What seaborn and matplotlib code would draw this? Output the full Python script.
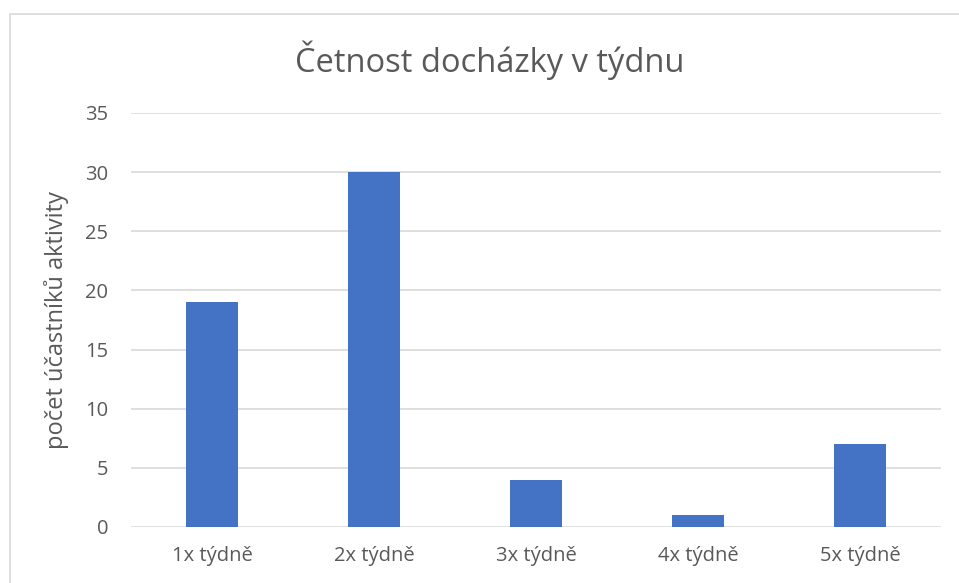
import matplotlib
matplotlib.use("Agg")
import matplotlib.pyplot as plt
import seaborn as sns
import pandas as pd
from matplotlib.patches import Rectangle

categories = ["1x týdně", "2x týdně", "3x týdně", "4x týdně", "5x týdně"]
values = [19, 30, 4, 1, 7]
yticks = [0, 5, 10, 15, 20, 25, 30, 35]

sns.set_theme(style="white")
plt.rcParams['font.family'] = ['Open Sans', 'DejaVu Sans']

df = pd.DataFrame({"cat": categories, "val": values})

fig = plt.figure(figsize=(9.59, 5.83), dpi=100)
ax = fig.add_axes([131/959, 1 - 527/583, (941-131)/959, (527-113)/583])
sns.barplot(data=df, x="cat", y="val", color="#4472C4", width=0.32, ax=ax,
            saturation=1, zorder=3, edgecolor="#4472C4", linewidth=0)

ax.set_ylim(0, 35)
ax.set_yticks(yticks)
ax.set_xlim(-0.5, 4.5)
ax.grid(axis="y", color="#D9D9D9", linewidth=1.2, zorder=0)
ax.grid(axis="x", visible=False)
for s in ax.spines.values():
    s.set_visible(False)
ax.tick_params(axis="both", length=0, labelsize=14.5, colors="#595959")
ax.tick_params(axis="x", pad=14)
ax.tick_params(axis="y", pad=16.5)
ax.set_xlabel("")
ax.set_ylabel("počet účastníků aktivity", fontsize=17, color="#595959")
ax.yaxis.set_label_coords(-0.076, 0.5)

fig.text(490/959, 1 - 60/583, "Četnost docházky v týdnu", ha="center", va="center",
         fontsize=23.5, color="#595959")

fig.patches.append(Rectangle((10/959, -0.1), 1.2, 1 - 14/583 + 0.1, transform=fig.transFigure,
                             fill=False, edgecolor="#D9D9D9", linewidth=1.2))

fig.savefig("out.png", dpi=100)
